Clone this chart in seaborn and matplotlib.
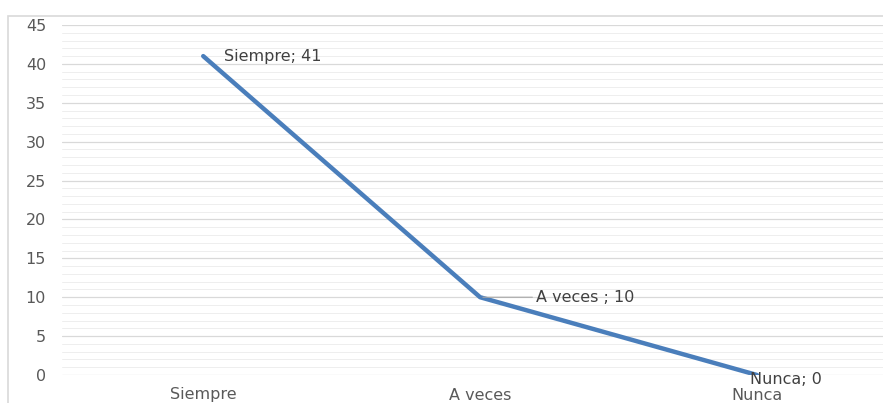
import matplotlib
matplotlib.use("Agg")
import matplotlib.pyplot as plt
import seaborn as sns
import pandas as pd
from matplotlib.patches import Rectangle

categories = ["Siempre", "A veces", "Nunca"]
values = [41, 10, 0]
point_labels = ["Siempre; 41", "A veces ; 10", "Nunca; 0"]
yticks = [0, 5, 10, 15, 20, 25, 30, 35, 40, 45]

sns.set_theme(style="white")
plt.rcParams['font.family'] = ['DejaVu Sans']

W, H = 883, 403
fig = plt.figure(figsize=(W / 100, H / 100), dpi=100)
ax = fig.add_axes([62 / W, 1 - 375 / H, (W - 62) / W, (375 - 25) / H])

df = pd.DataFrame({"cat": categories, "val": values, "x": range(len(categories))})

# grid
for v in range(0, 46):
    major = v % 5 == 0
    ax.axhline(v, color="#d9d9d9" if major else "#eeeeee", lw=0.9 if major else 0.7, zorder=0)

sns.lineplot(data=df, x="x", y="val", ax=ax, color="#4a7ebb", lw=3.2, sort=False, zorder=3)

FS = 11.5
ax.set_xlim(-0.51, 2.455)
ax.set_ylim(0, 45)
ax.set_yticks(yticks)
ax.set_yticklabels([str(t) for t in yticks], fontsize=FS, color="#595959")
ax.set_xticks(range(len(categories)))
ax.set_xticklabels(categories, fontsize=FS, color="#595959")
ax.tick_params(axis="both", length=0)
ax.tick_params(axis="y", pad=11.5)
ax.tick_params(axis="x", pad=9)
for s in ax.spines.values():
    s.set_visible(False)
ax.set_xlabel("")
ax.set_ylabel("")

# data labels
ax.annotate(point_labels[0], (0, values[0]), xytext=(15, 0), textcoords="offset points",
            fontsize=FS, color="#404040", va="center", ha="left")
ax.annotate(point_labels[1], (1, values[1]), xytext=(40, 0), textcoords="offset points",
            fontsize=FS, color="#404040", va="center", ha="left",
            arrowprops=dict(arrowstyle="-", color="#a6a6a6", lw=0.8, shrinkA=0, shrinkB=2))
ax.annotate(point_labels[2], (2, values[2]), xytext=(-5, -3), textcoords="offset points",
            fontsize=FS, color="#404040", va="center", ha="left", annotation_clip=False)

# chart frame
fig.patches.append(Rectangle((8 / W, -0.1), 1.2, 1 - 16 / H + 0.1, transform=fig.transFigure,
                             fill=False, edgecolor="#d9d9d9", lw=1.2))

fig.savefig("out.png", dpi=100)
